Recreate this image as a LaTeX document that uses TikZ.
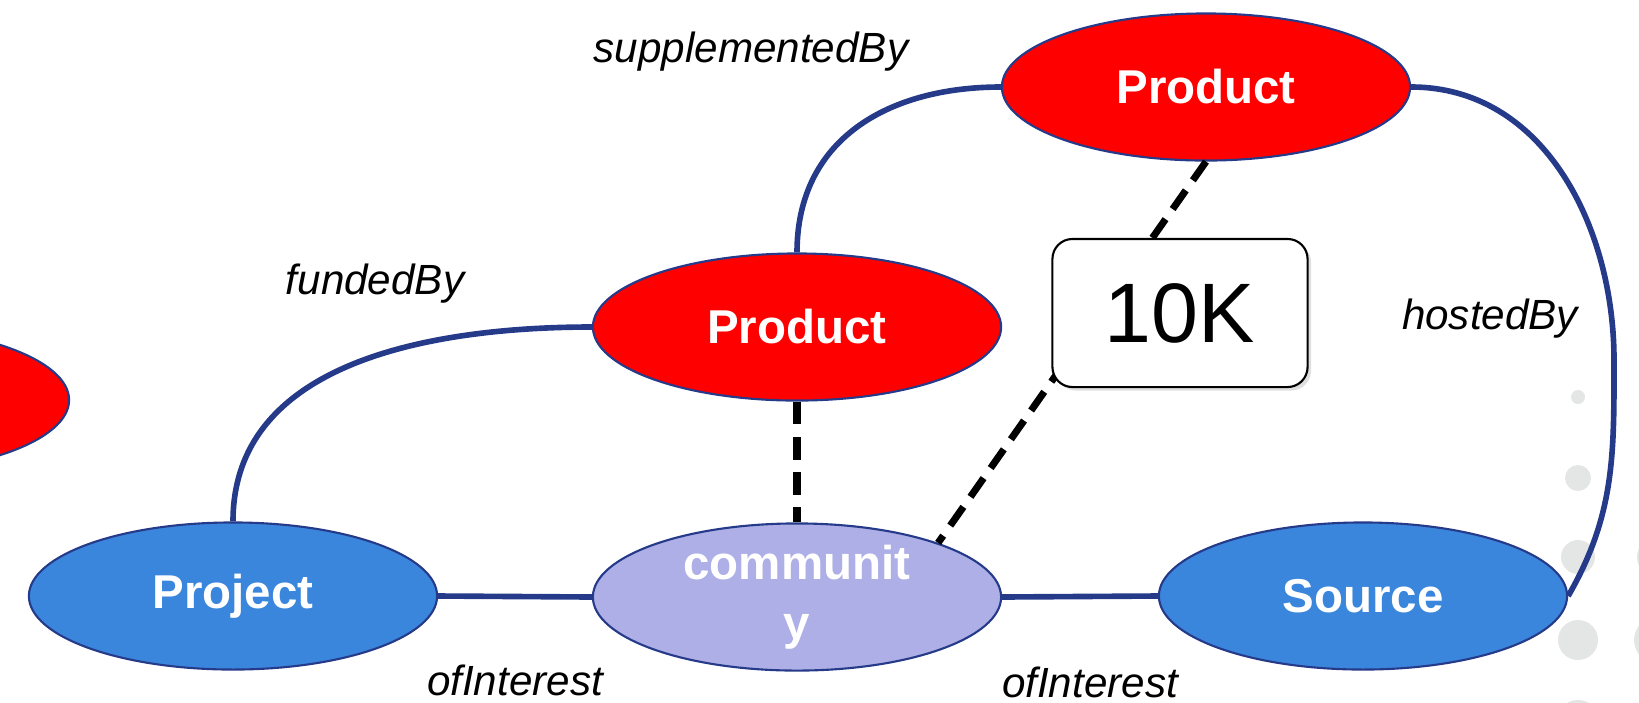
\documentclass[tikz,border=0pt]{standalone}
\usepackage{fontspec}
\setmainfont{Liberation Sans}
\usetikzlibrary{shapes.geometric, shadows}
\definecolor{prodred}{RGB}{255, 0, 0}
\definecolor{projblue}{RGB}{58, 134, 220}
\definecolor{commlav}{RGB}{173, 175, 230}
\definecolor{edgenavy}{RGB}{38, 58, 138}
\definecolor{dotgray}{RGB}{228, 230, 230}

\begin{document}
\begin{tikzpicture}[x=0.01cm, y=-0.01cm,
  blob/.style={ellipse, draw=edgenavy, line width=0.6pt, minimum width=4.08cm, minimum height=1.47cm,
    inner sep=0pt, text=white, align=center, font=\fontsize{13.5}{17}\selectfont\bfseries},
  link/.style={edgenavy, line width=1.6pt},
  tie/.style={black, line width=2pt, dash pattern=on 6.5pt off 3.5pt},
  rel/.style={font=\fontsize{12}{14}\selectfont\itshape}]
\useasboundingbox (0,0) rectangle (1639,702);
\clip (0,0) rectangle (1639,702);

\foreach \yy/\rr in {397/7, 478/13, 557/17, 640/20, 722/22}{
  \fill[dotgray] (1578,\yy) circle (\rr);
  \fill[dotgray] (1657,\yy) circle ({\rr+3});
}

\node[blob, fill=prodred] (prod0) at (-135,400) {};
\node[blob, fill=prodred] (prod1) at (1206,87) {Product};
\node[blob, fill=prodred] (prod2) at (797,327) {Product};
\node[blob, fill=projblue] (proj) at (233,596) {Project};
\node[blob, fill=commlav] (comm) at (797,597) {communit\\y};
\node[blob, fill=projblue] (src) at (1363,596) {Source};
\coordinate (hostbend) at (1614,360);

\draw[link] (proj.north) to[out=90, in=180] (prod2.west);
\draw[link] (prod2.north) to[out=90, in=180, looseness=1.1] (prod1.west);
\draw[link] (prod1.east) to[out=0, in=90] (hostbend) to[out=-90, in=60] (src.east);
\draw[link] (proj.east) -- (comm.west);
\draw[link] (comm.east) -- (src.west);

\draw[tie] (prod2.south) -- (comm.north);
\draw[tie] (prod1.south) -- (comm.21);

\node[draw, fill=white, rounded corners=0.2cm, line width=0.6pt, minimum width=2.55cm, minimum height=1.48cm,
  drop shadow={opacity=0.25, shadow xshift=1pt, shadow yshift=-1pt},
  font=\fontsize{24}{28}\selectfont] (count) at (1180,313) {10K};

\node[rel] (lsup) at (751,52) {supplementedBy};
\node[rel] (lfund) at (375,284) {fundedBy};
\node[rel] (lhost) at (1490,319) {hostedBy};
\node[rel] (lint1) at (515,680) {ofInterest};
\node[rel] (lint2) at (1090,682) {ofInterest};
\end{tikzpicture}
\end{document}
